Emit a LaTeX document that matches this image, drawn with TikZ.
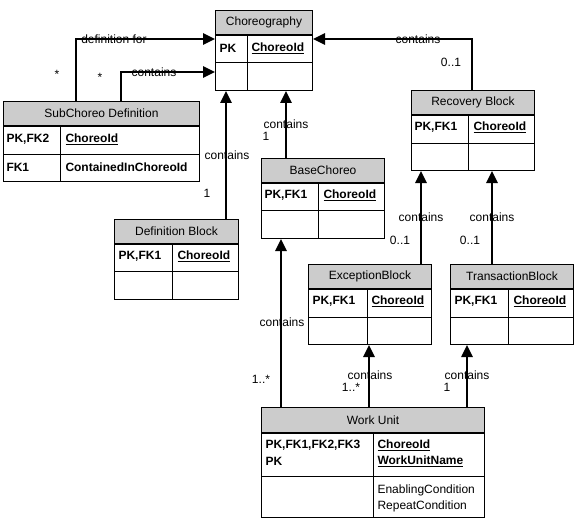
\documentclass[tikz,border=0pt]{standalone}
\usepackage{fontspec}
\setmainfont{Liberation Sans}
\usetikzlibrary{arrows.meta}
\definecolor{hdrgray}{RGB}{204,204,204}

\begin{document}
\begin{tikzpicture}[x=1pt, y=-1pt, line width=1pt,
    font=\fontsize{12}{14}\selectfont,
    hdr/.style={draw, fill=hdrgray, inner sep=0pt, anchor=north west, minimum height=24pt},
    body/.style={draw, inner sep=0pt, anchor=north, minimum height=55pt},
    key/.style={anchor=west, inner sep=0pt, font=\fontsize{12}{14}\selectfont\bfseries},
    attr/.style={anchor=west, inner sep=0pt},
    link/.style={-{Triangle[length=12pt, width=11pt]}, line width=2.5pt},
    lbl/.style={inner sep=0pt}]
    \useasboundingbox (0,0) rectangle (576,519);

    % Choreography
    \node[hdr, minimum width=97pt] (choreo) at (215,10) {Choreography};
    \node[body, minimum width=97pt] (choreob) at (choreo.south) {};
    \draw (choreob.west |- 0,63) -- (choreob.east |- 0,63);
    \draw (choreob.north -| 247,0) -- (choreob.south -| 247,0);
    \node[key] (choreopk) at (219,48) {PK};
    \node[key] (choreoid) at (251,48) {\underline{ChoreoId}};

    % SubChoreo Definition
    \node[hdr, minimum width=196pt] (subdef) at (3,101) {SubChoreo Definition};
    \node[body, minimum width=196pt] (subdefb) at (subdef.south) {};
    \draw (subdefb.west |- 0,154) -- (subdefb.east |- 0,154);
    \draw (subdefb.north -| 60,0) -- (subdefb.south -| 60,0);
    \node[key] (subdefpk) at (6,139) {PK,FK2};
    \node[key] (subdefid) at (65,139) {\underline{ChoreoId}};
    \node[key] (subdeffk) at (6,167) {FK1};
    \node[key] (subdefin) at (65,167) {ContainedInChoreoId};

    % Recovery Block
    \node[hdr, minimum width=123pt] (recov) at (411,90) {Recovery Block};
    \node[body, minimum width=123pt] (recovb) at (recov.south) {};
    \draw (recovb.west |- 0,143) -- (recovb.east |- 0,143);
    \draw (recovb.north -| 468,0) -- (recovb.south -| 468,0);
    \node[key] (recovpk) at (414,127) {PK,FK1};
    \node[key] (recovid) at (473,127) {\underline{ChoreoId}};

    % BaseChoreo
    \node[hdr, minimum width=123pt] (base) at (261,158) {BaseChoreo};
    \node[body, minimum width=123pt] (baseb) at (base.south) {};
    \draw (baseb.west |- 0,210) -- (baseb.east |- 0,210);
    \draw (baseb.north -| 318,0) -- (baseb.south -| 318,0);
    \node[key] (basepk) at (264,195) {PK,FK1};
    \node[key] (baseid) at (323,195) {\underline{ChoreoId}};

    % Definition Block
    \node[hdr, minimum width=124pt] (defblk) at (114,219) {Definition Block};
    \node[body, minimum width=124pt] (defblkb) at (defblk.south) {};
    \draw (defblkb.west |- 0,271) -- (defblkb.east |- 0,271);
    \draw (defblkb.north -| 172,0) -- (defblkb.south -| 172,0);
    \node[key] (defblkpk) at (118,256) {PK,FK1};
    \node[key] (defblkid) at (177,256) {\underline{ChoreoId}};

    % ExceptionBlock
    \node[hdr, minimum width=123pt] (excb) at (308,264) {ExceptionBlock};
    \node[body, minimum width=123pt] (excbb) at (excb.south) {};
    \draw (excbb.west |- 0,317) -- (excbb.east |- 0,317);
    \draw (excbb.north -| 367,0) -- (excbb.south -| 367,0);
    \node[key] (excbpk) at (312,301) {PK,FK1};
    \node[key] (excbid) at (371,301) {\underline{ChoreoId}};

    % TransactionBlock
    \node[hdr, minimum width=123pt] (trans) at (450,264) {TransactionBlock};
    \node[body, minimum width=123pt] (transb) at (trans.south) {};
    \draw (transb.west |- 0,317) -- (transb.east |- 0,317);
    \draw (transb.north -| 508,0) -- (transb.south -| 508,0);
    \node[key] (transpk) at (454,301) {PK,FK1};
    \node[key] (transid) at (513,301) {\underline{ChoreoId}};

    % Work Unit
    \node[hdr, minimum width=223pt, minimum height=25pt] (wu) at (261,407) {Work Unit};
    \node[body, minimum width=223pt, minimum height=84pt] (wub) at (wu.south) {};
    \draw (wub.west |- 0,476) -- (wub.east |- 0,476);
    \draw (wub.north -| 373,0) -- (wub.south -| 373,0);
    \node[key] (wupk) at (265,445) {PK,FK1,FK2,FK3};
    \node[key] (wupk2) at (265,461) {PK};
    \node[key] (wuid) at (377,445) {\underline{ChoreoId}};
    \node[key] (wuname) at (377,461) {\underline{WorkUnitName}};
    \node[attr] (wuenab) at (377,490) {EnablingCondition};
    \node[attr] (wurep) at (377,506) {RepeatCondition};

    % links
    \draw[link] (subdef.north -| 76,0) |- (choreob.west |- 0,39);
    \draw[link] (subdef.north -| 121,0) |- (choreob.west |- 0,72);
    \draw[link] (recov.north -| 472,0) |- (choreob.east |- 0,39);
    \draw[link] (base.north -| 286,0) -- (choreob.south -| 286,0);
    \draw[link] (defblk.north -| 226,0) -- (choreob.south -| 226,0);
    \draw[link] (excb.north -| 421,0) -- (recovb.south -| 421,0);
    \draw[link] (trans.north -| 492,0) -- (recovb.south -| 492,0);
    \draw[link] (wu.north -| 281,0) -- (baseb.south -| 281,0);
    \draw[link] (wu.north -| 369,0) -- (excbb.south -| 369,0);
    \draw[link] (wu.north -| 467,0) -- (transb.south -| 467,0);

    % labels
    \node[lbl] (ldef) at (114,39) {definition for};
    \node[lbl] (lstar1) at (57,74) {*};
    \node[lbl] (lstar2) at (100,77) {*};
    \node[lbl] (lsub) at (154,72) {contains};
    \node[lbl] (lrec) at (418,39) {contains};
    \node[lbl] (lrecm) at (451,62) {0..1};
    \node[lbl] (lbase) at (286,124) {contains};
    \node[lbl, anchor=west] (lbasem) at (262,136) {1};
    \node[lbl] (ldefb) at (227,155) {contains};
    \node[lbl] (ldefbm) at (207,193) {1};
    \node[lbl] (lexc) at (421,217) {contains};
    \node[lbl] (lexcm) at (400,240) {0..1};
    \node[lbl] (ltrans) at (492,217) {contains};
    \node[lbl] (ltransm) at (470,240) {0..1};
    \node[lbl] (lwub) at (282,322) {contains};
    \node[lbl] (lwubm) at (261,379) {1..*};
    \node[lbl] (lwue) at (370,375) {contains};
    \node[lbl] (lwuem) at (351,387) {1..*};
    \node[lbl] (lwut) at (467,375) {contains};
    \node[lbl, anchor=west] (lwutm) at (443,387) {1};
\end{tikzpicture}
\end{document}
